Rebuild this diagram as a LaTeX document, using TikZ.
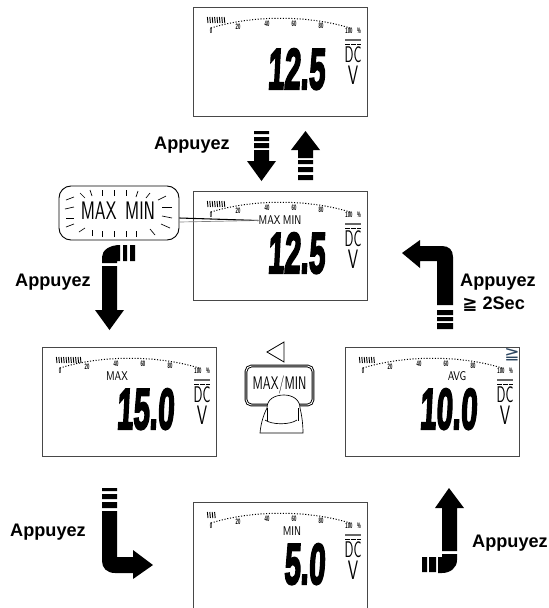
\documentclass[tikz,border=0pt]{standalone}
\usepackage{fontspec}
\setmainfont{Liberation Sans}
\setsansfont{Liberation Sans}
\newfontfamily\symbfont{DejaVu Sans}
\newfontfamily\lcdfont[FakeSlant=0.1,FakeBold=4]{Liberation Sans Bold}
\newfontfamily\lmss{Latin Modern Sans}
\usepackage{tikz}
\definecolor{frame}{HTML}{484848}
\definecolor{cornerink}{HTML}{2C4660}

\tikzset{
  lcdframe/.style={draw=frame,line width=0.9pt,minimum width=174*0.75pt,minimum height=109*0.75pt,inner sep=0pt,anchor=north west},
  press/.style={font=\bfseries\fontsize{13.6}{15}\selectfont,inner sep=0pt},
  mode text/.style={font=\fontsize{9.5}{10}\selectfont\lmss,inner sep=0pt,xscale=0.76},
  dc text/.style={font=\fontsize{17}{18}\selectfont\lmss,inner sep=0pt,xscale=0.58},
  volt text/.style={font=\fontsize{20}{21}\selectfont\lmss,inner sep=0pt,xscale=0.62},
  scale num/.style={font=\bfseries\fontsize{4.4}{5}\selectfont,inner sep=0pt,xscale=0.72,yscale=1.35},
  big digits/.style={font=\lcdfont\fontsize{24}{26}\selectfont,inner sep=0pt,anchor=south east,xscale=0.92,yscale=1.8},
  block/.style={fill=black,draw=none},
  ray/.style={line width=0.5pt}
}

% one meter display: name, left, top, mode text, mode x, digits, bar count
\newcommand{\lcdpanel}[7]{
  \node[lcdframe] (#1) at (#2,#3) {};
  \begin{scope}[shift={(#2,#3)}]
    \draw[line width=0.75pt,dash pattern=on 0.8pt off 1.3pt] (18,21) .. controls (60,8) and (115,8) .. (157,21);
    \foreach \i in {1,...,#7}
      \draw[line width=0.7pt] (12+\i*2.4,10) -- (12.6+\i*2.4,16);
    \foreach \xpos/\ypos/\val in {18/24/0,45/20/20,74/17/40,101/17/60,128/19/80,156/24/100}
      \node[scale num] at (\xpos,\ypos) {\val};
    \node[scale num] at (166,24) {\%};
    \draw[line width=1pt,black!60] (152,33) -- (168,33);
    \draw[line width=0.6pt,dash pattern=on 3.5pt off 0.9pt] (152,37) -- (168,37);
    \node[dc text] at (160,47.5) {DC};
    \node[volt text] at (160,68) {V};
    \node[big digits] at (132,83) {#6};
    \node[mode text] at (#5,29.5) {#4};
  \end{scope}
}

\begin{document}
\begin{tikzpicture}[x=0.75pt,y=-0.75pt]
  \useasboundingbox (0,0) rectangle (549,608);

  % displays
  \lcdpanel{top}{193}{7}{}{87}{12.5}{8}
  \lcdpanel{mid}{193}{191}{}{87}{12.5}{8}
  \lcdpanel{left}{42}{347}{MAX}{75}{15.0}{11}
  \lcdpanel{right}{345}{347}{AVG}{112}{10.0}{7}
  \lcdpanel{bottom}{193}{502}{MIN}{99}{5.0}{4}
  \node[font=\symbfont\fontsize{13}{14}\selectfont,text=cornerink,inner sep=0pt,xscale=1.05] (cornermark) at (512,354.5) {≧};

  % callout
  \node[draw,rounded corners=9pt,line width=0.7pt,minimum width=120*0.75pt,minimum height=54*0.75pt,inner sep=0pt] (callout) at (119,213) {};
  \node[font=\fontsize{19}{20}\selectfont\lmss,xscale=0.68,inner sep=0pt] (calltext) at (118,210.5) {MAX\hspace{0.5em}MIN};
  \node[mode text] (midmode) at (280,220.5) {MAX\hspace{0.25em}MIN};
  \draw[line width=0.8pt] (callout.east |- 0,218) -- (midmode.west);
  \draw[line width=0.5pt,gray] (callout.east |- 0,222) -- (midmode.west);
  \foreach \a/\b/\c/\d in {66/200/74/197,65/209/74/207,66/218/74/218,66/227/74/224,79/232/85/228,
    80/193/85/198,90/190/92/196,102/190/102/196,114/190/114/196,126/190/126/196,138/191/136/197,
    150/193/146/198,166/196/158/200,172/207/162/207,172/218/162/216,170/228/161/224,
    92/236/92/230,102/237/102/231,114/237/114/231,126/237/126/231,136/237/136/231,155/235/150/229}
    \draw[ray] (\a,\b) -- (\c,\d);

  % button
  \draw[line width=0.6pt] (284,342) -- (267,352) -- (284,362) -- cycle;
  \node[draw,rounded corners=4pt,line width=0.7pt,minimum width=67*0.75pt,minimum height=39*0.75pt,inner sep=0pt,
    double,double distance=0.7pt] (mmbutton) at (279.5,385.5) {};
  \node[font=\fontsize{13}{14}\selectfont\lmss,xscale=0.7,yscale=1.05,inner sep=0pt] (mmtext) at (279.5,384.5) {MAX/MIN};
  \filldraw[fill=white,line width=0.5pt] (260,433) .. controls (261,422) and (264,414) .. (267,408)
    .. controls (267,399) and (275,395) .. (284,395) .. controls (293,395) and (300,400) .. (300,408)
    .. controls (302,416) and (303,425) .. (303,433) -- cycle;
  \draw[line width=0.5pt] (265,420) .. controls (272,425) and (290,425) .. (297,420);
  \draw[line width=0.5pt] (267,408) -- (267,421) (298,408) -- (298,421);

  % arrows
  % top down
  \fill[block] (254,131) rectangle (269,134) (254,137) rectangle (269,141) (254,143) rectangle (269,148);
  \fill[block] (254,150) -- (269,150) -- (269,161) -- (276,161) -- (261.5,181) -- (247,161) -- (254,161) -- cycle;
  % top up
  \fill[block] (298,158) -- (313,158) -- (313,150) -- (320,150) -- (305.5,131) -- (291,150) -- (298,150) -- cycle;
  \fill[block] (298,160) rectangle (313,164) (298,167) rectangle (313,172) (298,175) rectangle (313,180);
  % left bent
  \fill[block] (123,245) rectangle (127,261) (130,245) rectangle (135,261);
  \fill[block] (120,245) -- (120,261) -- (117,261) -- (117,263) -- (102,263) -- (102,257) .. controls (102,250) and (110,245) .. (120,245) -- cycle;
  \fill[block] (102,266) rectangle (117,310) (95,310) -- (124,310) -- (109.5,330) -- cycle;
  % right bent
  \fill[block] (402,253) -- (420,240) -- (420,246) -- (442,246) .. controls (449,246) and (453,250) .. (453,257)
    -- (453,305) -- (437,305) -- (437,261) -- (420,261) -- (420,268) -- cycle;
  \fill[block] (437,310) rectangle (453,315) (437,317) rectangle (453,321) (437,323) rectangle (453,329);
  % bottom left bent
  \fill[block] (102,488) rectangle (117,491) (102,494) rectangle (117,499) (102,502) rectangle (117,508);
  \fill[block] (102,511) -- (117,511) -- (117,557) -- (133,557) -- (133,550) -- (153,565) -- (133,579) -- (133,573)
    -- (115,573) .. controls (107,573) and (102,568) .. (102,561) -- cycle;
  % bottom right bent
  \fill[block] (442,551) -- (442,508) -- (435,508) -- (449,488) -- (464,508) -- (457,508) -- (457,551) -- cycle;
  \fill[block] (438,557) -- (442,557) -- (442,554) -- (457,554) -- (457,560) .. controls (457,568) and (450,573) .. (442,573) -- (438,573) -- cycle;
  \fill[block] (422,557) rectangle (427,572) (429,557) rectangle (436,572);

  % labels
  \node[press] (pressa) at (192,145) {Appuyez};
  \node[press] (pressb) at (53,282) {Appuyez};
  \node[press] (pressc) at (498,282) {Appuyez};
  \node[press] (pressd) at (48,532) {Appuyez};
  \node[press] (presse) at (510,543) {Appuyez};
  \node[press,anchor=west] (presstime) at (462,304) {{\symbfont ≧} 2Sec};
\end{tikzpicture}
\end{document}
